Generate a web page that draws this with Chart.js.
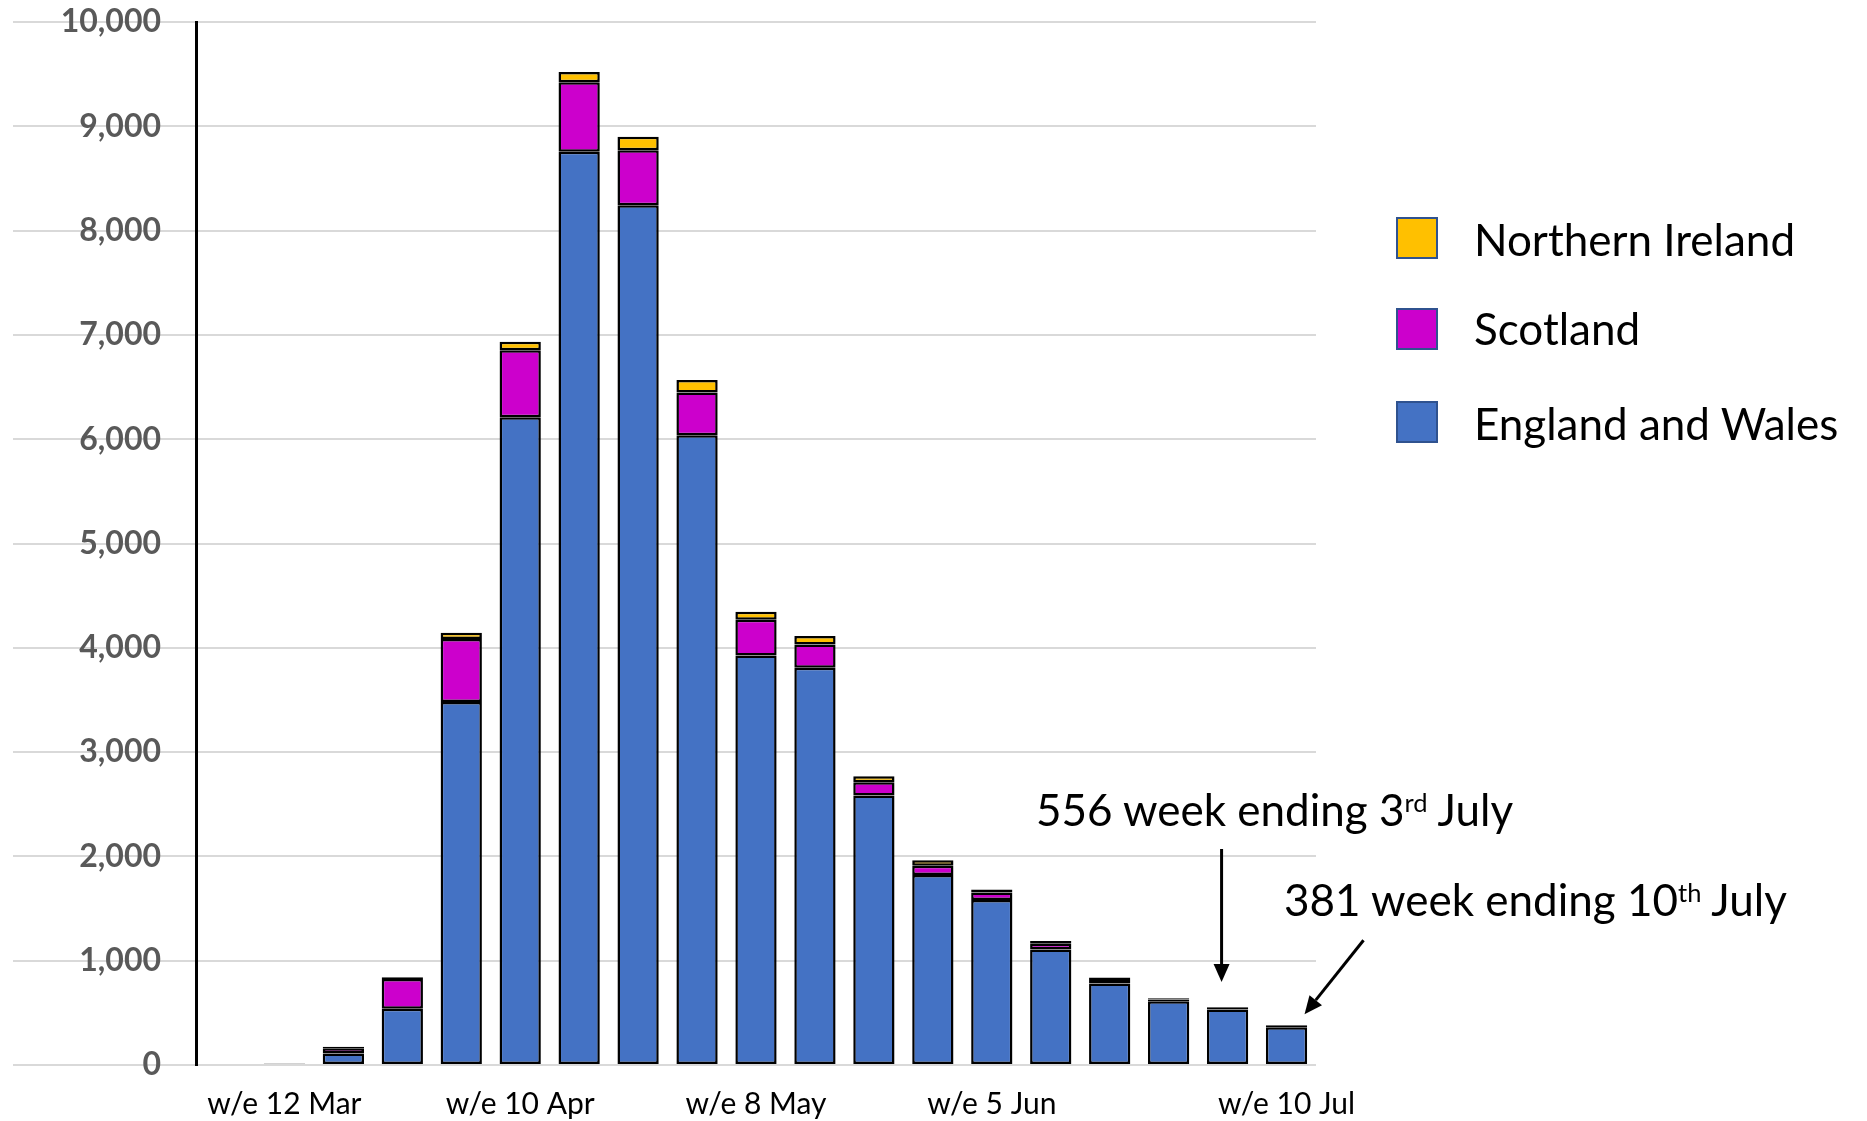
<!DOCTYPE html>
<html><head><meta charset="utf-8">
<script src="https://cdn.jsdelivr.net/npm/chart.js@4/dist/chart.umd.min.js"></script>
<style>
html,body{margin:0;padding:0;background:#fff;}
#wrap{position:relative;width:1867px;height:1121px;overflow:hidden;font-family:Lato,'Open Sans',sans-serif;}
canvas{position:absolute;left:0;top:0;}
.lg{position:absolute;left:1396px;width:42px;height:42px;box-sizing:border-box;border:2px solid #2F528F;}
.lt{position:absolute;left:1474px;font-size:44px;line-height:44px;color:#000;white-space:nowrap;}
.ann{position:absolute;font-size:44px;line-height:44px;color:#000;white-space:nowrap;}
.sp{font-size:0.58em;vertical-align:0.55em;line-height:0;}
</style></head>
<body>
<div id="wrap">
<canvas id="c" width="1867" height="1121"></canvas>
<div class="lg" style="top:217px;background:#FFC000"></div>
<div class="lt" style="top:217px">Northern Ireland</div>
<div class="lg" style="top:308px;background:#CC00CC"></div>
<div class="lt" style="top:306px">Scotland</div>
<div class="lg" style="top:401px;background:#4472C4"></div>
<div class="lt" style="top:401px">England and Wales</div>
<div class="ann" style="left:1036px;top:787px">556 week ending 3<span class="sp">rd</span> July</div>
<div class="ann" style="left:1284px;top:877px">381 week ending 10<span class="sp">th</span> July</div>
</div>
<script>
const categories = ['w/e 5 Mar','w/e 12 Mar','w/e 19 Mar','w/e 26 Mar','w/e 2 Apr','w/e 10 Apr','w/e 17 Apr','w/e 24 Apr','w/e 1 May','w/e 8 May','w/e 15 May','w/e 22 May','w/e 29 May','w/e 5 Jun','w/e 12 Jun','w/e 19 Jun','w/e 26 Jun','w/e 3 Jul','w/e 10 Jul'];
const tickLabels = ['', 'w/e 12 Mar', '', '', '', 'w/e 10 Apr', '', '', '', 'w/e 8 May', '', '', '', 'w/e 5 Jun', '', '', '', '', 'w/e 10 Jul'];
const englandWales = [0, 12, 110, 540, 3480, 6210, 8757, 8243, 6038, 3925, 3808, 2584, 1822, 1583, 1107, 781, 611, 533, 362];
const scotland = [0, 3, 50, 285, 605, 643, 665, 527, 410, 345, 224, 128, 89, 71, 56, 35, 18, 15, 12];
const northernIreland = [0, 2, 15, 17, 60, 82, 99, 131, 120, 75, 82, 57, 53, 28, 25, 24, 10, 8, 7];
const yMax = 10000, yStep = 1000;
const arrowTargets = [17, 18];

const totals = englandWales.map((v, i) => v + scotland[i] + northernIreland[i]);

function drawArrow(ctx, sx, sy, tx, ty) {
  const ang = Math.atan2(ty - sy, tx - sx);
  const head = 18, half = 8;
  const bx = tx - head * Math.cos(ang), by = ty - head * Math.sin(ang);
  ctx.save();
  ctx.strokeStyle = '#000'; ctx.fillStyle = '#000'; ctx.lineWidth = 3;
  ctx.beginPath(); ctx.moveTo(sx, sy); ctx.lineTo(bx, by); ctx.stroke();
  ctx.beginPath();
  ctx.moveTo(tx, ty);
  ctx.lineTo(bx + half * Math.sin(ang), by - half * Math.cos(ang));
  ctx.lineTo(bx - half * Math.sin(ang), by + half * Math.cos(ang));
  ctx.closePath(); ctx.fill();
  ctx.restore();
}

const arrowPlugin = {
  id: 'arrows',
  afterDatasetsDraw(chart) {
    const ctx = chart.ctx, xs = chart.scales.x, ys = chart.scales.y;
    const a = arrowTargets[0], b = arrowTargets[1];
    const x1 = xs.getPixelForValue(a) - 6;
    const tip1 = ys.getPixelForValue(totals[a]) - 25;
    drawArrow(ctx, x1, tip1 - 133, x1, tip1);
    const bx = xs.getPixelForValue(b) + 18;
    const by = ys.getPixelForValue(totals[b]) - 11;
    drawArrow(ctx, bx + 59, by - 74, bx, by);
  }
};

const common = { borderColor: '#000', borderWidth: 2.5, borderSkipped: false, categoryPercentage: 1, barPercentage: 0.7 };

new Chart(document.getElementById('c'), {
  type: 'bar',
  data: {
    labels: categories,
    datasets: [
      Object.assign({ label: 'England and Wales', data: englandWales, backgroundColor: '#4472C4' }, common),
      Object.assign({ label: 'Scotland', data: scotland, backgroundColor: '#CC00CC' }, common),
      Object.assign({ label: 'Northern Ireland', data: northernIreland, backgroundColor: '#FFC000' }, common)
    ]
  },
  options: {
    responsive: false,
    animation: false,
    layout: { padding: { top: 22, right: 551, left: 0, bottom: 0 } },
    plugins: { legend: { display: false }, tooltip: { enabled: false } },
    scales: {
      x: {
        stacked: true,
        offset: true,
        grid: { display: false },
        border: { display: false },
        ticks: {
          autoSkip: false, maxRotation: 0, minRotation: 0,
          color: '#000', padding: 13,
          font: { family: 'Lato', size: 30 },
          callback: (v, i) => tickLabels[i]
        },
        afterFit: s => { s.height = 56; }
      },
      y: {
        stacked: true,
        min: 0, max: yMax,
        grid: { color: '#D9D9D9', lineWidth: 2, drawTicks: true, tickLength: 183, tickColor: '#D9D9D9' },
        border: { display: true, color: '#000', width: 3 },
        ticks: {
          stepSize: yStep, color: '#595959', padding: -148,
          font: { family: 'Lato', size: 32, weight: 'bold' },
          callback: v => v.toLocaleString('en-US')
        },
        afterFit: s => { s.width = 196; }
      }
    }
  },
  plugins: [arrowPlugin]
});
</script>
</body></html>
